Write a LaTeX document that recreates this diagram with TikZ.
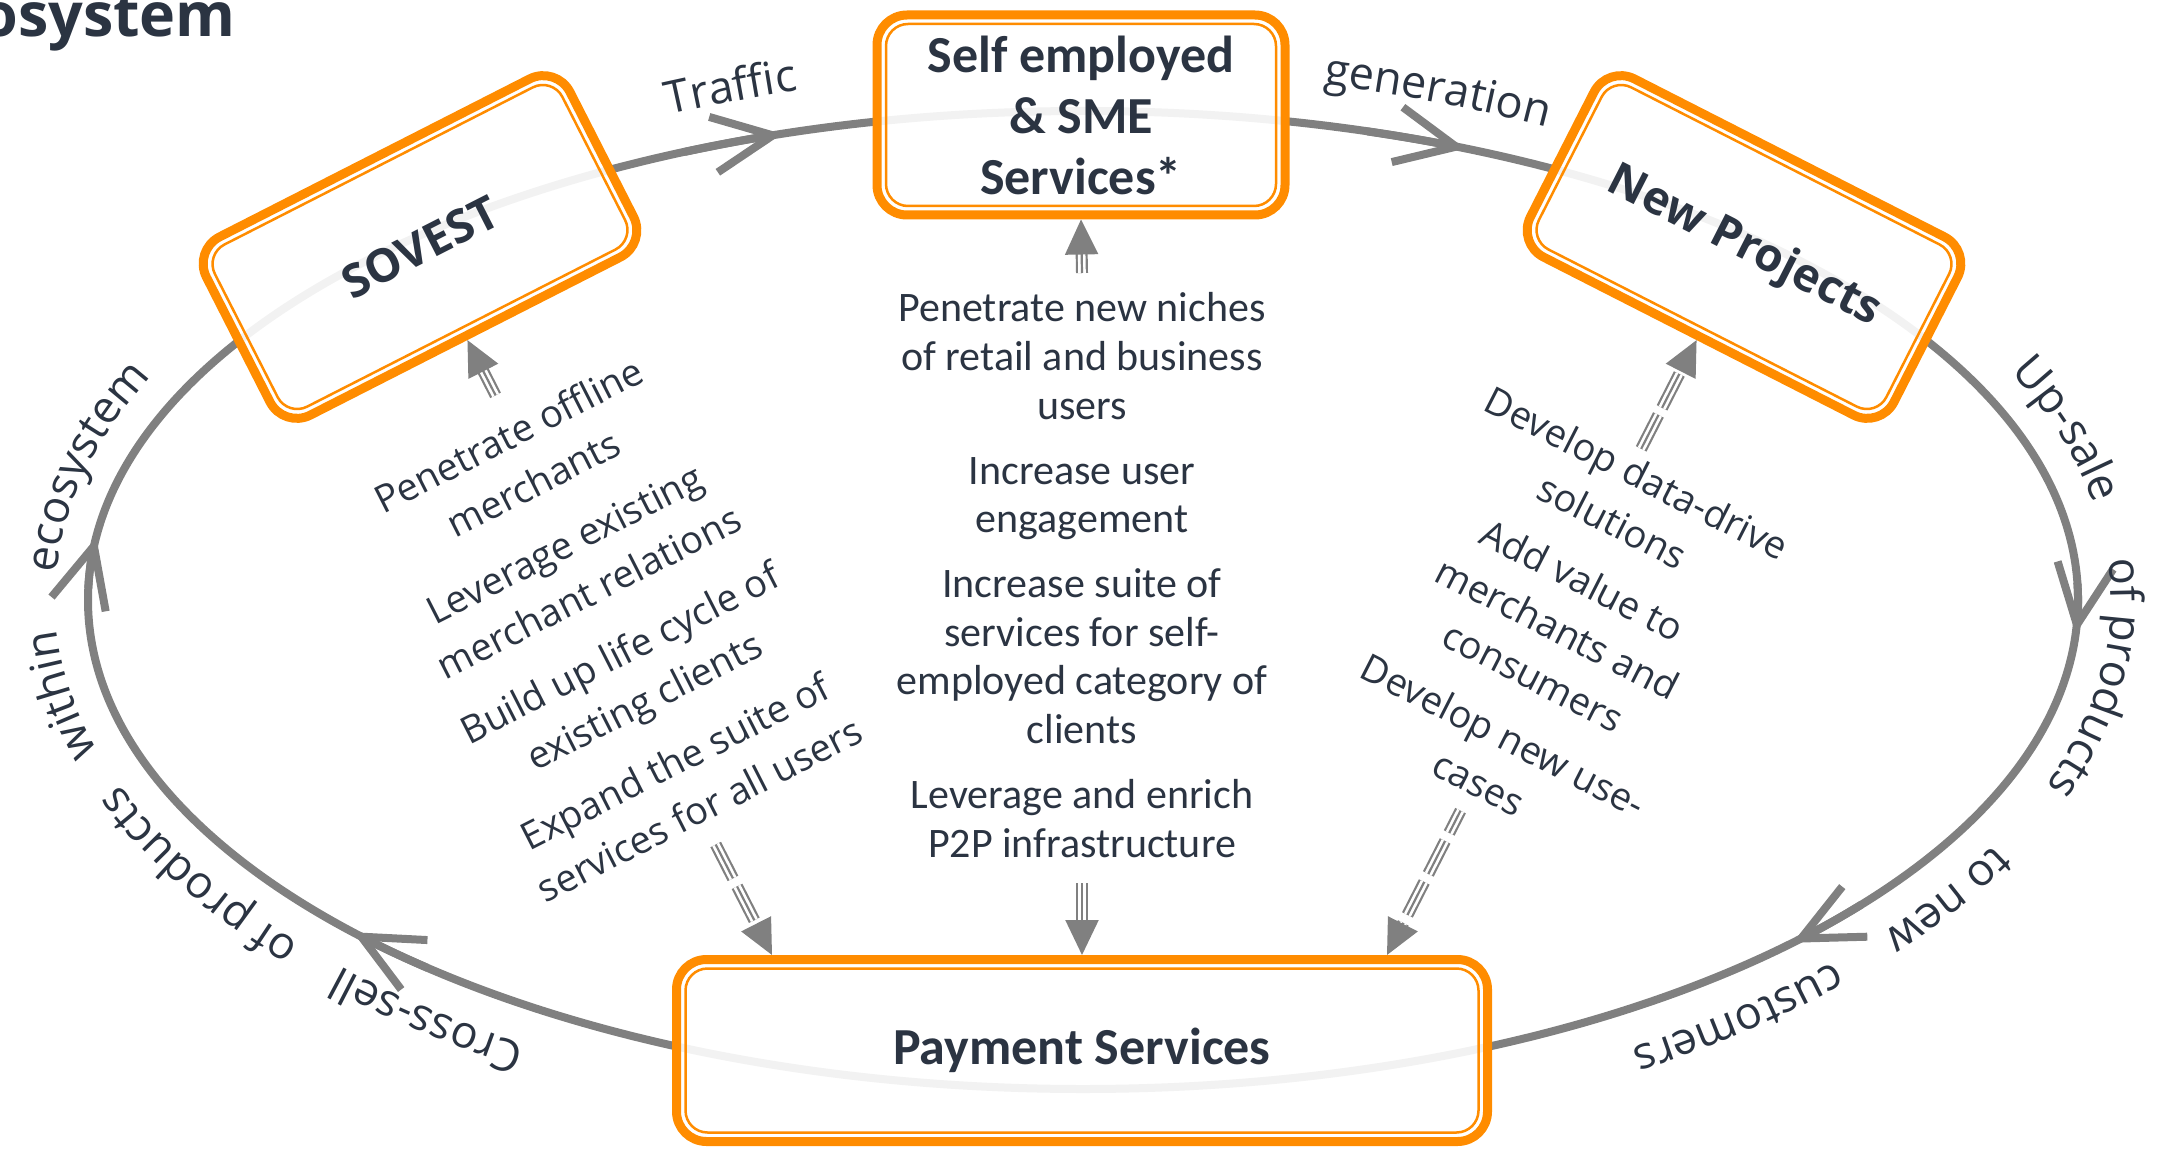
\documentclass[tikz,border=0pt]{standalone}
\usepackage{fontspec}
\setmainfont{Carlito}
\newfontfamily\osans{Open Sans}
\usetikzlibrary{arrows.meta,decorations.text,calc}
\definecolor{ringgray}{HTML}{808080}
\definecolor{orng}{HTML}{FF8C00}
\definecolor{ink}{HTML}{2B3442}
\newcommand\ringfont{\osans\fontsize{45}{45}\selectfont}
\begin{document}
\begin{tikzpicture}[x=1pt,y=1pt,
  ringline/.style={draw=ringgray, line width=8pt},
  chev/.style={ringline, -{Straight Barb[length=60pt,width=56pt]}},
  boxout/.style={draw=orng, line width=9pt, rounded corners=30pt, fill=white, fill opacity=0.9, text opacity=1, minimum width=408pt, minimum height=200pt, inner sep=0pt, align=center, text=ink},
  boxin/.style={draw=orng, line width=2.5pt, rounded corners=22pt, minimum width=390pt, minimum height=182pt, inner sep=0pt},
  boxfont/.style={font=\fontsize{52}{61}\selectfont\bfseries},
  projfont/.style={font=\osans\bfseries\fontsize{46}{50}\selectfont},
  listfont/.style={font=\osans\fontsize{38}{54}\selectfont, text=ink, align=center, inner sep=0pt},
  ringtext/.style={decorate, decoration={text along path, text align=center, text color=ink, text={|\ringfont|#1}}},
  tri/.style={draw=ringgray, line width=2.2pt, -{Triangle[length=35pt,width=33pt]}, #1,
    preaction={draw=ringgray, line width=12pt, arrows=-, shorten >=34pt, #1},
    preaction={draw=white, line width=7.6pt, arrows=-, shorten >=34pt, #1}},
  tri/.default={solid}
]
\useasboundingbox (0,0) rectangle (2178,-1150);

% title (cut by the frame)
\node[font=\osans\bfseries\fontsize{61}{61}\selectfont, text=ink, anchor=base east, inner sep=0pt] (title) at (236,-37) {Ecosystem};

% ring
\draw[ringline] (1083,-600) ellipse [x radius=995, y radius=489];
\foreach \t in {107.6, 67.4, -4, -44.5, 222.8, 172.6}{
  \draw[chev] (1083,-600) ++({995*cos(\t+6)},{489*sin(\t+6)}) arc[start angle=\t+6, end angle=\t, x radius=995, y radius=489];
}

% ring labels (text along arcs just outside the ring)
\foreach \ta/\tb/\lbl in {117/103/Traffic, 79.7/59.7/generation, 29.5/5.5/Up-sale, 9.3/-24.7/of products, -23.9/-41.9/to new, -40.2/-60.2/customers, 240.2/220.2/Cross-sell, 223.8/195.8/of products, 200.6/178.6/within, 181.5/151.5/ecosystem}{
  \path[ringtext/.expanded={\lbl}] (1083,-600) ++({1028*cos(\ta)},{530*sin(\ta)}) arc[start angle=\ta, end angle=\tb, x radius=1028, y radius=530];
}

% boxes
\node[boxout, boxfont] (selfemp) at (1081,-115) {Self employed\\ \& SME\\ Services*};
\node[boxin] (selfempin) at (1081,-115) {};
\node[boxout, rotate=27, projfont] (sovest) at (420,-247) {SOVEST};
\node[boxin, rotate=27] (sovestin) at (420,-247) {};
\node[boxout, rotate=-27, projfont] (newproj) at (1744,-247) {New Projects};
\node[boxin, rotate=-27] (newprojin) at (1744,-247) {};
\node[boxout, boxfont, minimum width=811pt, minimum height=182pt] (payment) at (1082,-1050.5) {Payment Services};
\node[boxin, minimum width=793pt, minimum height=164pt] (paymentin) at (1082,-1050.5) {};

% text blocks
\node[font=\fontsize{42}{48.6}\selectfont, text=ink, align=center, inner sep=0pt] (clist) at (1082,-575) {Penetrate new niches\\ of retail and business\\ users\\[16.4pt] Increase user\\ engagement\\[16.4pt] Increase suite of\\ services for self-\\ employed category of\\ clients\\[16.4pt] Leverage and enrich\\ P2P infrastructure};
\node[listfont, rotate=27] (llist) at (604,-622) {Penetrate offline\\ merchants\\[14pt] Leverage existing\\ merchant relations\\[14pt] Build up life cycle of\\ existing clients\\[14pt] Expand the suite of\\ services for all users};
\node[listfont, rotate=-27] (rlist) at (1558,-628) {Develop data-drive\\ solutions\\[12pt] Add value to\\ merchants and\\ consumers\\[12pt] Develop new use-\\ cases};

% connectors
\coordinate (cup) at (1082,-273);
\draw[tri] (cup) -- (selfemp.south);
\coordinate (cdown) at (1082,-883);
\draw[tri] (cdown) -- (payment.north);
\coordinate (lup) at ($(sovest.south)+(-63:62)$);
\draw[tri] (lup) -- (sovest.south);
\coordinate (ptipL) at ([xshift=100pt]payment.north west);
\coordinate (ldn) at ($(ptipL)+(117:124)$);
\draw[tri={dash pattern=on 38pt off 9pt}] (ldn) -- (ptipL);
\coordinate (ptipR) at ([xshift=-105pt]payment.north east);
\coordinate (rdn) at ($(ptipR)+(63:162)$);
\draw[tri={dash pattern=on 37pt off 9pt, dash phase=12pt}] (rdn) -- (ptipR);
\coordinate (rup) at ($(newproj.south)+(243:122)$);
\draw[tri={dash pattern=on 38pt off 8pt}] (rup) -- (newproj.south);
\end{tikzpicture}
\end{document}
